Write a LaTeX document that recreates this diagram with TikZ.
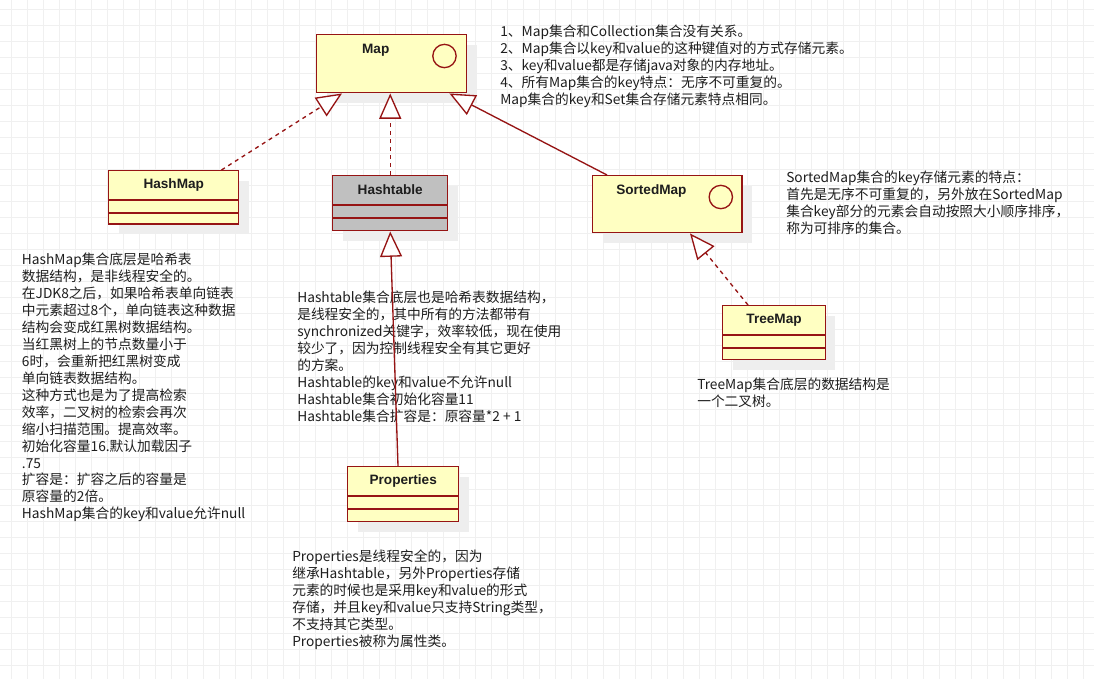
\documentclass[tikz,border=0pt]{standalone}
\usepackage{fontspec}
\setmainfont{Noto Sans CJK SC}
\newfontfamily\clsfont{Liberation Sans}
\usetikzlibrary{arrows.meta,calc,shadows}
\definecolor{umlred}{RGB}{150,20,20}
\definecolor{umlyel}{RGB}{255,255,194}
\definecolor{umlgray}{RGB}{192,192,192}
\definecolor{shade}{RGB}{238,238,238}
\definecolor{gridc}{RGB}{240,240,240}
\definecolor{ink}{RGB}{30,30,30}
\tikzset{
 cls/.style={rectangle,draw=umlred,line width=1.1pt,fill=umlyel,inner sep=0pt,anchor=north west,
  drop shadow={shadow xshift=7.5pt,shadow yshift=-7.5pt,fill=shade,opacity=1}},
 ttl/.style={font=\clsfont\bfseries\fontsize{10.2}{12}\selectfont,text=ink,inner sep=0pt},
 ifc/.style={circle,draw=umlred,line width=1pt,inner sep=0pt,minimum size=17.5pt},
 sep/.style={draw=umlred,line width=1.1pt},
 note/.style={anchor=north west,align=left,inner sep=0pt,text=ink,font=\fontsize{10.3}{12.7}\selectfont},
 gen/.style={draw=umlred,line width=1pt,-{Triangle[fill=white,length=19pt,width=16.5pt]}},
 real/.style={gen,dash pattern=on 3pt off 3pt},
 gridln/.style={draw=gridc,line width=0.6pt}}
\begin{document}
\begin{tikzpicture}[x=0.75pt,y=-0.75pt]
 \fill[white] (0,0) rectangle (1094,679);
 \useasboundingbox (0,0) rectangle (1094,679);
 % background grid
 \foreach \gx in {11,27,...,1094} \draw[gridln] (\gx,0) -- (\gx,679);
 \foreach \gy in {9,25,...,679} \draw[gridln] (0,\gy) -- (1094,\gy);

 % classes
 \node[cls,minimum width=112.5pt,minimum height=43.5pt] (map) at (316,34) {};
 \node[ttl] (map-t) at ($(map.north)+(-16,16)$) {Map};
 \node[ifc] (map-c) at ($(map.north east)+(-23,22)$) {};

 \node[cls,minimum width=97.5pt,minimum height=40pt] (hashmap) at (108,170) {};
 \node[ttl] (hashmap-t) at ($(hashmap.north)+(0,15)$) {HashMap};

 \node[cls,fill=umlgray,minimum width=86.25pt,minimum height=41.25pt] (hashtable) at (332,175) {};
 \node[ttl] (hashtable-t) at ($(hashtable.north)+(0,15)$) {Hashtable};

 \node[cls,minimum width=112pt,minimum height=42.75pt] (sortedmap) at (592,175) {};
 \node[ttl] (sortedmap-t) at ($(sortedmap.north)+(-16,16)$) {SortedMap};
 \node[ifc] (sortedmap-c) at ($(sortedmap.north east)+(-22,22)$) {};

 \node[cls,minimum width=77pt,minimum height=40.5pt] (treemap) at (722,305) {};
 \node[ttl] (treemap-t) at ($(treemap.north)+(0,15)$) {TreeMap};

 \node[cls,minimum width=83.25pt,minimum height=41.25pt] (properties) at (347,466) {};
 \node[ttl] (properties-t) at ($(properties.north)+(0,15)$) {Properties};

 \foreach \c in {hashmap,hashtable,treemap,properties}
  \foreach \d in {30,43}
   \draw[sep] ($(\c.north west)+(0,\d)$) -- ($(\c.north east)+(0,\d)$);

 % notes
 \node[note] (maptxt) at (500,25) {1、Map集合和Collection集合没有关系。\\
  2、Map集合以key和value的这种键值对的方式存储元素。\\
  3、key和value都是存储java对象的内存地址。\\
  4、所有Map集合的key特点：无序不可重复的。\\
  Map集合的key和Set集合存储元素特点相同。};
 \node[note] (sortedtxt) at (786,171) {SortedMap集合的key存储元素的特点：\\
  首先是无序不可重复的，另外放在SortedMap\\
  集合key部分的元素会自动按照大小顺序排序，\\
  称为可排序的集合。};
 \node[note] (hashmaptxt) at (21.7,253) {HashMap集合底层是哈希表\\
  数据结构，是非线程安全的。\\
  在JDK8之后，如果哈希表单向链表\\
  中元素超过8个，单向链表这种数据\\
  结构会变成红黑树数据结构。\\
  当红黑树上的节点数量小于\\
  6时，会重新把红黑树变成\\
  单向链表数据结构。\\
  这种方式也是为了提高检索\\
  效率，二叉树的检索会再次\\
  缩小扫描范围。提高效率。\\
  初始化容量16.默认加载因子\\
  .75\\
  扩容是：扩容之后的容量是\\
  原容量的2倍。\\
  HashMap集合的key和value允许null};
 \node[note] (hashtabletxt) at (297,291) {Hashtable集合底层也是哈希表数据结构，\\
  是线程安全的，其中所有的方法都带有\\
  synchronized关键字，效率较低，现在使用\\
  较少了，因为控制线程安全有其它更好\\
  的方案。\\
  Hashtable的key和value不允许null\\
  Hashtable集合初始化容量11\\
  Hashtable集合扩容是：原容量*2 + 1};
 \node[note] (treemaptxt) at (697,378) {TreeMap集合底层的数据结构是\\
  一个二叉树。};
 \node[note] (propstxt) at (292,550) {Properties是线程安全的，因为\\
  继承Hashtable，另外Properties存储\\
  元素的时候也是采用key和value的形式\\
  存储，并且key和value只支持String类型，\\
  不支持其它类型。\\
  Properties被称为属性类。};

 % inheritance
 \draw[real] ($(hashmap.north east)+(-18,0)$) -- ($(map.south west)+(26,0)$);
 \draw[real] (hashtable.north) -- (hashtable.north |- map.south);
 \draw[gen] ($(sortedmap.north west)+(15,0)$) -- ($(map.south east)+(-18,0)$);
 \draw[gen] ($(properties.north west)+(51,0)$) -- (hashtable.south);
 \draw[real] ($(treemap.north west)+(26,0)$) -- ($(sortedmap.south west)+(98,0)$);
\end{tikzpicture}
\end{document}
